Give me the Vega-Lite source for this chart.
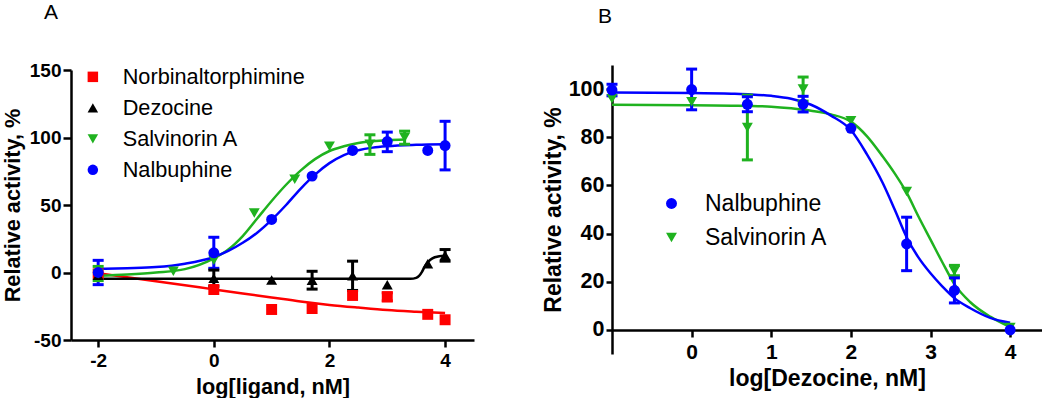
{
  "$schema": "https://vega.github.io/schema/vega-lite/v6.json",
  "padding": {"left": 2, "top": 2, "right": 0, "bottom": 0},
  "background": "white",
  "config": {
    "view": {"stroke": null},
    "axis": {"grid": false, "domainColor": "black", "domainWidth": 2.5, "tickColor": "black", "tickWidth": 2.5, "tickSize": 7, "labelFont": "Liberation Sans", "labelFontWeight": "bold", "labelFontSize": 19, "labelColor": "black", "titleFont": "Liberation Sans", "titleFontWeight": "bold", "titleFontSize": 21.7, "titleColor": "black", "labelPadding": 2},
    "legend": {"labelFont": "Liberation Sans", "labelFontSize": 21.7, "labelColor": "black", "padding": 0, "labelLimit": 400},
    "title": {"font": "Liberation Sans", "fontSize": 21, "fontWeight": "normal", "anchor": "start", "frame": "group", "color": "black"}
  },
  "datasets": {
    "curvesA": [
      {"drug": "Norbinaltorphimine", "x": -2, "y": -0.5}, {"drug": "Norbinaltorphimine", "x": -1.5, "y": -3.5}, {"drug": "Norbinaltorphimine", "x": -1, "y": -6.5}, {"drug": "Norbinaltorphimine", "x": -0.5, "y": -9.5}, {"drug": "Norbinaltorphimine", "x": 0, "y": -12.5}, {"drug": "Norbinaltorphimine", "x": 0.5, "y": -15.5}, {"drug": "Norbinaltorphimine", "x": 1, "y": -18.5}, {"drug": "Norbinaltorphimine", "x": 1.5, "y": -21.5}, {"drug": "Norbinaltorphimine", "x": 2, "y": -24}, {"drug": "Norbinaltorphimine", "x": 2.5, "y": -26}, {"drug": "Norbinaltorphimine", "x": 3, "y": -27.8}, {"drug": "Norbinaltorphimine", "x": 3.5, "y": -29}, {"drug": "Norbinaltorphimine", "x": 4, "y": -30},
      {"drug": "Dezocine", "x": -2, "y": -4.7}, {"drug": "Dezocine", "x": 0, "y": -4.7}, {"drug": "Dezocine", "x": 2, "y": -4.7}, {"drug": "Dezocine", "x": 3.4, "y": -4.7}, {"drug": "Dezocine", "x": 3.5, "y": -4}, {"drug": "Dezocine", "x": 3.55, "y": -2.5}, {"drug": "Dezocine", "x": 3.6, "y": 0.5}, {"drug": "Dezocine", "x": 3.65, "y": 4.5}, {"drug": "Dezocine", "x": 3.7, "y": 7.5}, {"drug": "Dezocine", "x": 3.78, "y": 10.5}, {"drug": "Dezocine", "x": 3.9, "y": 12}, {"drug": "Dezocine", "x": 4, "y": 12.5},
      {"drug": "Salvinorin A", "x": -2, "y": -2.5}, {"drug": "Salvinorin A", "x": -1.5, "y": -1.5}, {"drug": "Salvinorin A", "x": -1, "y": 0}, {"drug": "Salvinorin A", "x": -0.5, "y": 2.5}, {"drug": "Salvinorin A", "x": 0, "y": 10.5}, {"drug": "Salvinorin A", "x": 0.25, "y": 17}, {"drug": "Salvinorin A", "x": 0.5, "y": 27}, {"drug": "Salvinorin A", "x": 0.75, "y": 40}, {"drug": "Salvinorin A", "x": 1, "y": 53}, {"drug": "Salvinorin A", "x": 1.25, "y": 65}, {"drug": "Salvinorin A", "x": 1.5, "y": 75.5}, {"drug": "Salvinorin A", "x": 1.75, "y": 84}, {"drug": "Salvinorin A", "x": 2, "y": 90}, {"drug": "Salvinorin A", "x": 2.25, "y": 93.5}, {"drug": "Salvinorin A", "x": 2.5, "y": 96}, {"drug": "Salvinorin A", "x": 3, "y": 98}, {"drug": "Salvinorin A", "x": 3.3, "y": 98.5},
      {"drug": "Nalbuphine", "x": -2, "y": 2.7}, {"drug": "Nalbuphine", "x": -1.5, "y": 3.2}, {"drug": "Nalbuphine", "x": -1, "y": 4}, {"drug": "Nalbuphine", "x": -0.5, "y": 6.5}, {"drug": "Nalbuphine", "x": 0, "y": 11.5}, {"drug": "Nalbuphine", "x": 0.25, "y": 16}, {"drug": "Nalbuphine", "x": 0.5, "y": 22}, {"drug": "Nalbuphine", "x": 0.75, "y": 29.5}, {"drug": "Nalbuphine", "x": 1, "y": 39}, {"drug": "Nalbuphine", "x": 1.25, "y": 50}, {"drug": "Nalbuphine", "x": 1.5, "y": 62}, {"drug": "Nalbuphine", "x": 1.75, "y": 72.5}, {"drug": "Nalbuphine", "x": 2, "y": 81}, {"drug": "Nalbuphine", "x": 2.25, "y": 87}, {"drug": "Nalbuphine", "x": 2.5, "y": 90.5}, {"drug": "Nalbuphine", "x": 2.75, "y": 92.5}, {"drug": "Nalbuphine", "x": 3, "y": 93.6}, {"drug": "Nalbuphine", "x": 3.5, "y": 94.6}, {"drug": "Nalbuphine", "x": 4, "y": 95}
    ],
    "pointsA": [
      {"drug": "Norbinaltorphimine", "x": -2, "y": -1}, {"drug": "Norbinaltorphimine", "x": 0, "y": -12.6}, {"drug": "Norbinaltorphimine", "x": 1, "y": -27.4}, {"drug": "Norbinaltorphimine", "x": 1.7, "y": -26.7}, {"drug": "Norbinaltorphimine", "x": 2.4, "y": -17}, {"drug": "Norbinaltorphimine", "x": 3, "y": -18}, {"drug": "Norbinaltorphimine", "x": 3.7, "y": -31}, {"drug": "Norbinaltorphimine", "x": 4, "y": -35},
      {"drug": "Dezocine", "x": -2, "y": -2}, {"drug": "Dezocine", "x": 0, "y": -4.2}, {"drug": "Dezocine", "x": 1, "y": -5.5}, {"drug": "Dezocine", "x": 1.7, "y": -5.7}, {"drug": "Dezocine", "x": 2.4, "y": -2.5}, {"drug": "Dezocine", "x": 3, "y": -9}, {"drug": "Dezocine", "x": 3.7, "y": 6.5}, {"drug": "Dezocine", "x": 4, "y": 12.7},
      {"drug": "Salvinorin A", "x": -2, "y": -1}, {"drug": "Salvinorin A", "x": -0.7, "y": 1}, {"drug": "Salvinorin A", "x": 0, "y": 9}, {"drug": "Salvinorin A", "x": 0.7, "y": 44}, {"drug": "Salvinorin A", "x": 1.4, "y": 69}, {"drug": "Salvinorin A", "x": 2, "y": 93.6}, {"drug": "Salvinorin A", "x": 2.7, "y": 95}, {"drug": "Salvinorin A", "x": 3.3, "y": 100},
      {"drug": "Nalbuphine", "x": -2, "y": 0}, {"drug": "Nalbuphine", "x": 0, "y": 14.6}, {"drug": "Nalbuphine", "x": 1, "y": 39.3}, {"drug": "Nalbuphine", "x": 1.7, "y": 71.4}, {"drug": "Nalbuphine", "x": 2.4, "y": 90.4}, {"drug": "Nalbuphine", "x": 3, "y": 97}, {"drug": "Nalbuphine", "x": 3.7, "y": 90.4}, {"drug": "Nalbuphine", "x": 4, "y": 94}
    ],
    "errA": [
      {"drug": "Norbinaltorphimine", "x": 3, "lo": -21, "hi": -15},
      {"drug": "Dezocine", "x": 0, "lo": -10.2, "hi": 1.8}, {"drug": "Dezocine", "x": 1.7, "lo": -12.3, "hi": 0.9}, {"drug": "Dezocine", "x": 2.4, "lo": -13.3, "hi": 8.4}, {"drug": "Dezocine", "x": 4, "lo": 8.4, "hi": 17},
      {"drug": "Salvinorin A", "x": -2, "lo": -6, "hi": 4.5}, {"drug": "Salvinorin A", "x": 2.7, "lo": 87.5, "hi": 102}, {"drug": "Salvinorin A", "x": 3.3, "lo": 95, "hi": 104.7},
      {"drug": "Nalbuphine", "x": -2, "lo": -9, "hi": 9}, {"drug": "Nalbuphine", "x": 0, "lo": 3.1, "hi": 26.1}, {"drug": "Nalbuphine", "x": 3, "lo": 89.5, "hi": 104}, {"drug": "Nalbuphine", "x": 4, "lo": 76, "hi": 112}
    ],
    "curvesB": [
      {"drug": "Salvinorin A", "x": -1, "y": 93.5}, {"drug": "Salvinorin A", "x": 0, "y": 93.3}, {"drug": "Salvinorin A", "x": 0.5, "y": 93.1}, {"drug": "Salvinorin A", "x": 0.75, "y": 93}, {"drug": "Salvinorin A", "x": 1, "y": 92.7}, {"drug": "Salvinorin A", "x": 1.25, "y": 92}, {"drug": "Salvinorin A", "x": 1.5, "y": 91}, {"drug": "Salvinorin A", "x": 1.75, "y": 89.5}, {"drug": "Salvinorin A", "x": 2, "y": 86.5}, {"drug": "Salvinorin A", "x": 2.2, "y": 80.5}, {"drug": "Salvinorin A", "x": 2.4, "y": 72}, {"drug": "Salvinorin A", "x": 2.55, "y": 65}, {"drug": "Salvinorin A", "x": 2.7, "y": 57}, {"drug": "Salvinorin A", "x": 2.85, "y": 47}, {"drug": "Salvinorin A", "x": 3, "y": 37.5}, {"drug": "Salvinorin A", "x": 3.15, "y": 28}, {"drug": "Salvinorin A", "x": 3.3, "y": 19}, {"drug": "Salvinorin A", "x": 3.5, "y": 11.5}, {"drug": "Salvinorin A", "x": 3.75, "y": 5.5}, {"drug": "Salvinorin A", "x": 4, "y": 1.2},
      {"drug": "Nalbuphine", "x": -1, "y": 98.6}, {"drug": "Nalbuphine", "x": 0, "y": 98.4}, {"drug": "Nalbuphine", "x": 0.5, "y": 98.1}, {"drug": "Nalbuphine", "x": 0.75, "y": 97.8}, {"drug": "Nalbuphine", "x": 1, "y": 97.2}, {"drug": "Nalbuphine", "x": 1.25, "y": 96}, {"drug": "Nalbuphine", "x": 1.5, "y": 93.5}, {"drug": "Nalbuphine", "x": 1.75, "y": 89}, {"drug": "Nalbuphine", "x": 2, "y": 83}, {"drug": "Nalbuphine", "x": 2.2, "y": 73}, {"drug": "Nalbuphine", "x": 2.4, "y": 61}, {"drug": "Nalbuphine", "x": 2.55, "y": 50}, {"drug": "Nalbuphine", "x": 2.7, "y": 38.5}, {"drug": "Nalbuphine", "x": 2.85, "y": 30}, {"drug": "Nalbuphine", "x": 3, "y": 23.5}, {"drug": "Nalbuphine", "x": 3.15, "y": 18}, {"drug": "Nalbuphine", "x": 3.3, "y": 13.2}, {"drug": "Nalbuphine", "x": 3.5, "y": 9}, {"drug": "Nalbuphine", "x": 3.75, "y": 5}, {"drug": "Nalbuphine", "x": 4, "y": 3}
    ],
    "pointsB": [
      {"drug": "Salvinorin A", "x": -1, "y": 96}, {"drug": "Salvinorin A", "x": 0, "y": 94.7}, {"drug": "Salvinorin A", "x": 0.7, "y": 84}, {"drug": "Salvinorin A", "x": 1.4, "y": 100}, {"drug": "Salvinorin A", "x": 2, "y": 86.9}, {"drug": "Salvinorin A", "x": 2.7, "y": 57.5}, {"drug": "Salvinorin A", "x": 3.3, "y": 24.5}, {"drug": "Salvinorin A", "x": 4, "y": 1},
      {"drug": "Nalbuphine", "x": -1, "y": 99.6}, {"drug": "Nalbuphine", "x": 0, "y": 99.8}, {"drug": "Nalbuphine", "x": 0.7, "y": 93.7}, {"drug": "Nalbuphine", "x": 1.4, "y": 93.8}, {"drug": "Nalbuphine", "x": 2, "y": 83.7}, {"drug": "Nalbuphine", "x": 2.7, "y": 35.7}, {"drug": "Nalbuphine", "x": 3.3, "y": 16.4}, {"drug": "Nalbuphine", "x": 4, "y": 0}
    ],
    "errB": [
      {"drug": "Salvinorin A", "x": 0.7, "lo": 70.6, "hi": 97.5}, {"drug": "Salvinorin A", "x": 1.4, "lo": 95, "hi": 105}, {"drug": "Salvinorin A", "x": 3.3, "lo": 22.5, "hi": 26.8},
      {"drug": "Nalbuphine", "x": -1, "lo": 97.2, "hi": 102}, {"drug": "Nalbuphine", "x": 0, "lo": 91.4, "hi": 108.3}, {"drug": "Nalbuphine", "x": 0.7, "lo": 90.6, "hi": 96.8}, {"drug": "Nalbuphine", "x": 1.4, "lo": 90.5, "hi": 97}, {"drug": "Nalbuphine", "x": 2.7, "lo": 24.6, "hi": 46.8}, {"drug": "Nalbuphine", "x": 3.3, "lo": 11.2, "hi": 21.6}
    ]
  },
  "spacing": 68,
  "resolve": {"scale": {"color": "independent", "shape": "independent", "stroke": "independent", "fill": "independent"}, "legend": {"color": "independent", "shape": "independent"}},
  "hconcat": [
    {
      "width": 403, "height": 275,
      "title": {"text": "A", "dx": -27, "offset": 38},
      "encoding": {
        "x": {"field": "x", "type": "quantitative", "scale": {"domain": [-2.47, 4.5], "nice": false, "zero": false}, "axis": {"title": "log[ligand, nM]", "values": [-2, 0, 2, 4], "labelExpr": "toString(datum.value)", "labelPadding": 4, "titlePadding": 6}}
      },
      "layer": [
        {"data": {"name": "curvesA"}, "mark": {"type": "line", "interpolate": "monotone", "strokeWidth": 2.5},
         "encoding": {"y": {"field": "y", "type": "quantitative", "scale": {"domain": [-50, 150], "range": [275, 5], "nice": false, "zero": false}, "axis": {"title": "Relative activity, %", "values": [-50, 0, 50, 100, 150], "labelExpr": "toString(datum.value)", "tickSize": 8, "titlePadding": 5}}, "detail": {"field": "drug"},
           "stroke": {"field": "drug", "type": "nominal", "scale": {"domain": ["Nalbuphine", "Salvinorin A", "Dezocine", "Norbinaltorphimine"], "range": ["#0000ff", "#1fb21f", "#000000", "#ff0000"]}, "legend": null}}},
        {"data": {"name": "errA"}, "mark": {"type": "rule", "strokeWidth": 3},
         "encoding": {"y": {"field": "lo", "type": "quantitative", "title": "Relative activity, %"}, "y2": {"field": "hi"},
           "stroke": {"field": "drug", "type": "nominal", "scale": {"domain": ["Nalbuphine", "Salvinorin A", "Dezocine", "Norbinaltorphimine"], "range": ["#0000ff", "#1fb21f", "#000000", "#ff0000"]}, "legend": null}}},
        {"data": {"name": "errA"}, "mark": {"type": "tick", "orient": "horizontal", "size": 11, "thickness": 3, "opacity": 1},
         "encoding": {"y": {"field": "lo", "type": "quantitative", "title": "Relative activity, %"},
           "fill": {"field": "drug", "type": "nominal", "scale": {"domain": ["Nalbuphine", "Salvinorin A", "Dezocine", "Norbinaltorphimine"], "range": ["#0000ff", "#1fb21f", "#000000", "#ff0000"]}, "legend": null}}},
        {"data": {"name": "errA"}, "mark": {"type": "tick", "orient": "horizontal", "size": 11, "thickness": 3, "opacity": 1},
         "encoding": {"y": {"field": "hi", "type": "quantitative", "title": "Relative activity, %"},
           "fill": {"field": "drug", "type": "nominal", "scale": {"domain": ["Nalbuphine", "Salvinorin A", "Dezocine", "Norbinaltorphimine"], "range": ["#0000ff", "#1fb21f", "#000000", "#ff0000"]}, "legend": null}}},
        {"data": {"name": "pointsA"}, "mark": {"type": "point", "filled": true, "size": 120, "opacity": 1},
         "encoding": {"y": {"field": "y", "type": "quantitative", "title": "Relative activity, %"},
           "color": {"field": "drug", "type": "nominal", "scale": {"domain": ["Norbinaltorphimine", "Dezocine", "Salvinorin A", "Nalbuphine"], "range": ["#ff0000", "#000000", "#1fb21f", "#0000ff"]}, "legend": {"title": null, "orient": "none", "legendX": 11, "legendY": 1, "rowPadding": 8, "labelOffset": 19, "symbolSize": 110}},
           "shape": {"field": "drug", "type": "nominal", "scale": {"domain": ["Norbinaltorphimine", "Dezocine", "Salvinorin A", "Nalbuphine"], "range": ["square", "triangle-up", "triangle-down", "circle"]}, "legend": {"title": null, "orient": "none", "legendX": 11, "legendY": 1, "rowPadding": 8, "labelOffset": 19, "symbolSize": 110}}}}
      ]
    },
    {
      "width": 430, "height": 289,
      "title": {"text": "B", "dx": -14, "offset": 38},
      "encoding": {
        "x": {"field": "x", "type": "quantitative", "scale": {"domain": [-1, 4.4], "nice": false, "zero": false}, "axis": {"title": "log[Dezocine, nM]", "values": [0, 1, 2, 3, 4], "offset": -24, "labelPadding": 4, "titlePadding": 5, "labelFontSize": 21, "titleFontSize": 23}}
      },
      "layer": [
        {"data": {"name": "curvesB"}, "mark": {"type": "line", "interpolate": "monotone", "strokeWidth": 2.5},
         "encoding": {"y": {"field": "y", "type": "quantitative", "scale": {"domain": [-10, 110], "nice": false, "zero": false}, "axis": {"title": "Relative activity, %", "values": [0, 20, 40, 60, 80, 100], "tickSize": 6, "titlePadding": 3, "labelFontSize": 21.5, "titleFontSize": 23}}, "detail": {"field": "drug"},
           "stroke": {"field": "drug", "type": "nominal", "scale": {"domain": ["Salvinorin A", "Nalbuphine"], "range": ["#1fb21f", "#0000ff"]}, "legend": null}}},
        {"data": {"name": "errB"}, "mark": {"type": "rule", "strokeWidth": 3},
         "encoding": {"y": {"field": "lo", "type": "quantitative", "title": "Relative activity, %"}, "y2": {"field": "hi"},
           "stroke": {"field": "drug", "type": "nominal", "scale": {"domain": ["Salvinorin A", "Nalbuphine"], "range": ["#1fb21f", "#0000ff"]}, "legend": null}}},
        {"data": {"name": "errB"}, "mark": {"type": "tick", "orient": "horizontal", "size": 11, "thickness": 3, "opacity": 1},
         "encoding": {"y": {"field": "lo", "type": "quantitative", "title": "Relative activity, %"},
           "fill": {"field": "drug", "type": "nominal", "scale": {"domain": ["Salvinorin A", "Nalbuphine"], "range": ["#1fb21f", "#0000ff"]}, "legend": null}}},
        {"data": {"name": "errB"}, "mark": {"type": "tick", "orient": "horizontal", "size": 11, "thickness": 3, "opacity": 1},
         "encoding": {"y": {"field": "hi", "type": "quantitative", "title": "Relative activity, %"},
           "fill": {"field": "drug", "type": "nominal", "scale": {"domain": ["Salvinorin A", "Nalbuphine"], "range": ["#1fb21f", "#0000ff"]}, "legend": null}}},
        {"data": {"name": "pointsB"}, "mark": {"type": "point", "filled": true, "size": 120, "opacity": 1},
         "encoding": {"y": {"field": "y", "type": "quantitative", "title": "Relative activity, %"},
           "color": {"field": "drug", "type": "nominal", "scale": {"domain": ["Nalbuphine", "Salvinorin A"], "range": ["#0000ff", "#1fb21f"]}, "legend": {"title": null, "orient": "none", "legendX": 48, "legendY": 127, "rowPadding": 10, "labelOffset": 22, "symbolSize": 120, "labelFontSize": 23}},
           "shape": {"field": "drug", "type": "nominal", "scale": {"domain": ["Nalbuphine", "Salvinorin A"], "range": ["circle", "triangle-down"]}, "legend": {"title": null, "orient": "none", "legendX": 48, "legendY": 127, "rowPadding": 10, "labelOffset": 22, "symbolSize": 120, "labelFontSize": 23}}}}
      ]
    }
  ]
}
